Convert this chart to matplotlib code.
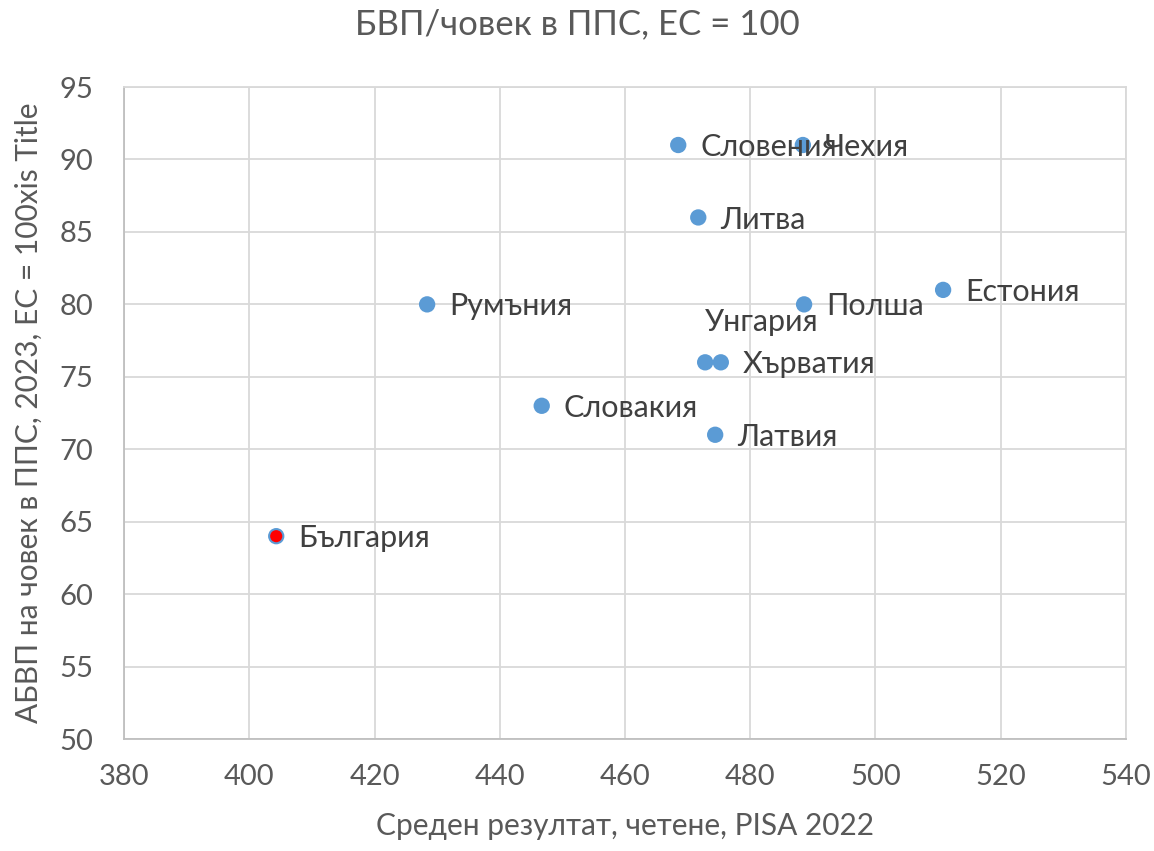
import matplotlib
matplotlib.use("Agg")
import matplotlib.pyplot as plt

countries = ["България", "Румъния", "Словакия", "Словения", "Литва", "Унгария",
             "Хърватия", "Латвия", "Чехия", "Полша", "Естония"]
pisa = [404.3, 428.4, 446.7, 468.5, 471.7, 472.8, 475.3, 474.4, 488.4, 488.6, 510.8]
gdp = [64, 80, 73, 91, 86, 76, 76, 71, 91, 80, 81]
x_ticks = [380, 400, 420, 440, 460, 480, 500, 520, 540]
y_ticks = [50, 55, 60, 65, 70, 75, 80, 85, 90, 95]

plt.rcParams['font.family'] = ['Lato', 'DejaVu Sans']
txt = '#595959'
lab = '#404040'

fig = plt.figure(figsize=(11.54, 8.51), dpi=100)
ax = fig.add_axes([0.1075, 0.1316, 0.8682, 0.7661])

colors = ['#FF0000' if c == "България" else '#5B9BD5' for c in countries]
ax.scatter(pisa, gdp, s=105, c=colors, edgecolors='#5B9BD5', linewidths=1.5, zorder=3)

for c, x, y in zip(countries, pisa, gdp):
    if c == "Унгария":
        ax.annotate(c, (x, y), xytext=(0, 29), textcoords='offset points',
                    fontsize=22, color=lab, ha='left', va='center')
    else:
        ax.annotate(c, (x, y), xytext=(16, -1.5), textcoords='offset points',
                    fontsize=22, color=lab, ha='left', va='center')

ax.set_xlim(380, 540)
ax.set_ylim(50, 95)
ax.set_xticks(x_ticks)
ax.set_yticks(y_ticks)
ax.tick_params(axis='both', length=0, labelsize=21, labelcolor=txt)
ax.tick_params(axis='x', pad=18)
ax.tick_params(axis='y', pad=22)
ax.grid(True, color='#D9D9D9', linewidth=1.3, zorder=0)
ax.set_axisbelow(True)
for s in ['top', 'right']:
    ax.spines[s].set_color('#D9D9D9')
    ax.spines[s].set_linewidth(1.3)
for s in ['left', 'bottom']:
    ax.spines[s].set_color('#BFBFBF')
    ax.spines[s].set_linewidth(1.3)

ax.set_xlabel("Среден резултат, четене, PISA 2022", fontsize=21.5, color=txt, labelpad=16)
ax.set_ylabel("АБВП на човек в ППС, 2023, ЕС = 100xis Title", fontsize=21.5, color=txt, labelpad=12)
fig.suptitle("БВП/човек в ППС, ЕС = 100", fontsize=25, color=txt, y=0.99)

fig.savefig("out.png", dpi=100)
